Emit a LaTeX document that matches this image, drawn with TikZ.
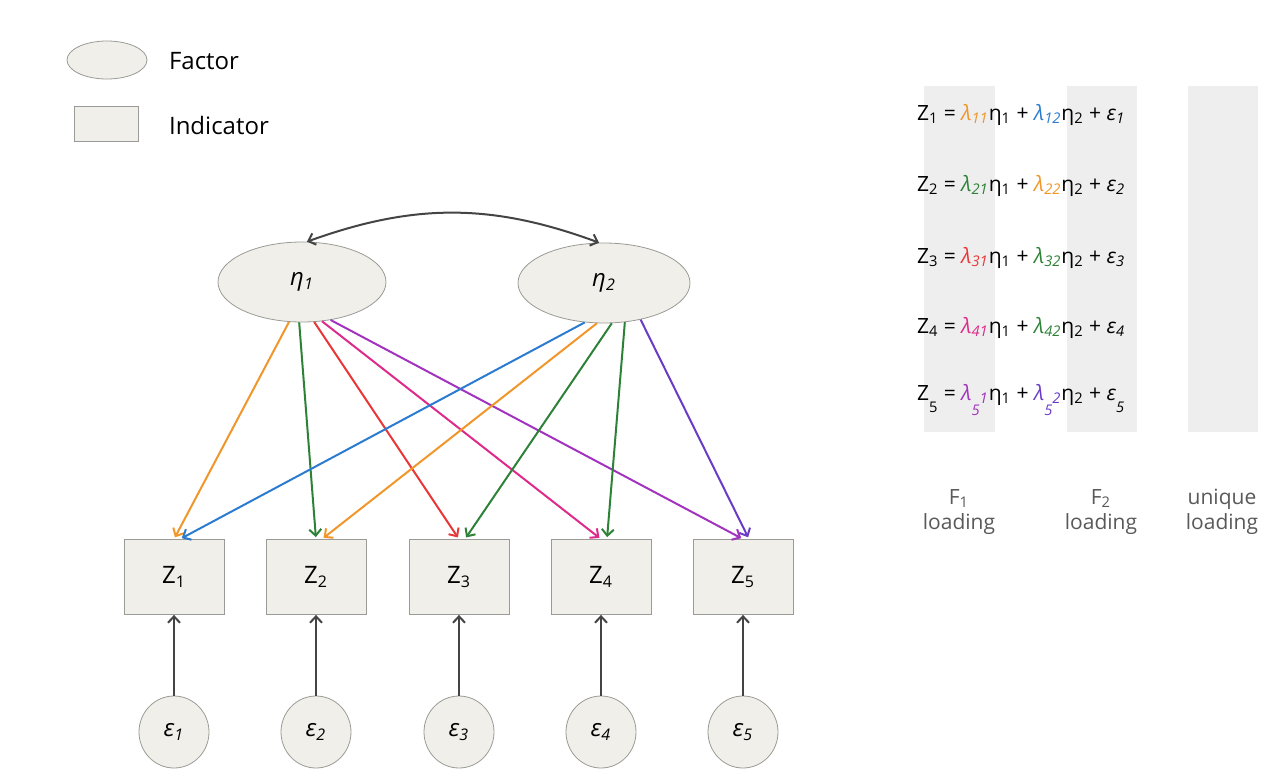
\documentclass[tikz,border=0pt]{standalone}
\usepackage{fontspec}
\setmainfont{Open Sans}
\usetikzlibrary{arrows.meta,shapes.geometric}
\definecolor{nodefill}{HTML}{F1EFE9}
\definecolor{nodeline}{HTML}{9A9A96}
\definecolor{colgray}{HTML}{EEEEEE}
\definecolor{darkline}{HTML}{444444}
\definecolor{ldorange}{HTML}{F0962A}
\definecolor{ldgreen}{HTML}{2E8237}
\definecolor{ldred}{HTML}{E8393A}
\definecolor{ldpink}{HTML}{DE2A8A}
\definecolor{ldpurple}{HTML}{A233BE}
\definecolor{ldindigo}{HTML}{6A3CC5}
\definecolor{ldblue}{HTML}{2B7BD0}
\newcommand{\lam}[2]{\textcolor{#1}{\textit{λ\textsubscript{#2}}}}
\newcommand{\eps}[1]{\textit{ε\textsubscript{#1}}}
\newcommand{\lowfive}{\raisebox{-1.1ex}{5}}
\newcommand{\highsub}[1]{\raisebox{0.5ex}{#1}}
\begin{document}
\begin{tikzpicture}[x=0.5pt,y=-0.5pt,
    factor/.style={ellipse,draw=nodeline,fill=nodefill,minimum width=84pt,minimum height=40pt,inner sep=0pt,font=\large\itshape},
    indicator/.style={rectangle,draw=nodeline,fill=nodefill,minimum width=50pt,minimum height=37.5pt,inner sep=0pt,font=\large},
    errnode/.style={ellipse,draw=nodeline,fill=nodefill,minimum width=35pt,minimum height=36pt,inner sep=0pt,font=\large\itshape},
    loadarr/.style={line width=1pt,-{Straight Barb[length=3.2pt,width=6pt]},shorten >=1pt},
    errarr/.style={darkline,line width=1pt,-{Straight Barb[length=3.2pt,width=6pt]}},
    eqn/.style={anchor=west,font=\fontsize{10.5}{12.5}\selectfont},
    colname/.style={align=center,text=black!65,font=\fontsize{10.5}{12.5}\selectfont},
    legtext/.style={anchor=west,font=\fontsize{12}{14}\selectfont}]
    \useasboundingbox (0,0) rectangle (1280,782);
    % legend
    \node[ellipse,draw=nodeline,fill=nodefill,minimum width=40pt,minimum height=19pt] (legfactor) at (107,60) {};
    \node[legtext] (legfactortxt) at (162,61) {Factor};
    \node[rectangle,draw=nodeline,fill=nodefill,minimum width=32pt,minimum height=17.5pt] (legind) at (106,124) {};
    \node[legtext] (legindtxt) at (162,125) {Indicator};
    % factors
    \node[factor] (eta1) at (302,282) {η\textsubscript{1}};
    \node[factor,minimum width=86pt] (eta2) at (604,283) {η\textsubscript{2}};
    \draw[darkline,line width=1pt,{Straight Barb[length=3.2pt,width=6pt]}-{Straight Barb[length=3.2pt,width=6pt]}] (eta1.83) to[bend left=20] (eta2.97);
    % indicators and errors
    \foreach \i/\x in {1/174,2/316,3/459,4/601,5/743} {
        \node[indicator] (z\i) at (\x,577) {Z\textsubscript{\i}};
        \node[errnode] (e\i) at (\x,732) {ε\textsubscript{\i}};
        \draw[errarr] (e\i) -- (z\i);
    }
    % loadings
    \foreach \ang/\t/\col in {252/1/ldorange,266/2/ldgreen,287/3/ldred,297/4/ldpink,307/5/ldpurple}
        \draw[loadarr,\col] (eta1.\ang) -- (z\t.north);
    \foreach \ang/\t/\col in {244/1/ldblue,260/2/ldorange,281/3/ldgreen,298/4/ldgreen,315/5/ldindigo}
        \draw[loadarr,\col] (eta2.\ang) -- ([xshift=3pt]z\t.north);
    % equations
    \fill[colgray] (924,86) rectangle (995,432);
    \fill[colgray] (1067,86) rectangle (1137,432);
    \fill[colgray] (1188,86) rectangle (1258,432);
    \node[eqn] (eq1) at (910,115) {Z\textsubscript{1} = \lam{ldorange}{11}η\textsubscript{1} + \lam{ldblue}{12}η\textsubscript{2} + \eps{1}};
    \node[eqn] (eq2) at (910,186) {Z\textsubscript{2} = \lam{ldgreen}{21}η\textsubscript{1} + \lam{ldorange}{22}η\textsubscript{2} + \eps{2}};
    \node[eqn] (eq3) at (910,258) {Z\textsubscript{3} = \lam{ldred}{31}η\textsubscript{1} + \lam{ldgreen}{32}η\textsubscript{2} + \eps{3}};
    \node[eqn] (eq4) at (910,328) {Z\textsubscript{4} = \lam{ldpink}{41}η\textsubscript{1} + \lam{ldgreen}{42}η\textsubscript{2} + \eps{4}};
    \node[eqn] (eq5) at (910,400) {Z\textsubscript{\lowfive} = \lam{ldpurple}{\lowfive\highsub{1}}η\textsubscript{1} + \lam{ldindigo}{\lowfive\highsub{2}}η\textsubscript{2} + \eps{\lowfive}};
    \node[colname] (f1lab) at (959,512) {F\textsubscript{1}\\loading};
    \node[colname] (f2lab) at (1101,512) {F\textsubscript{2}\\loading};
    \node[colname] (unilab) at (1222,512) {unique\\loading};
\end{tikzpicture}
\end{document}
